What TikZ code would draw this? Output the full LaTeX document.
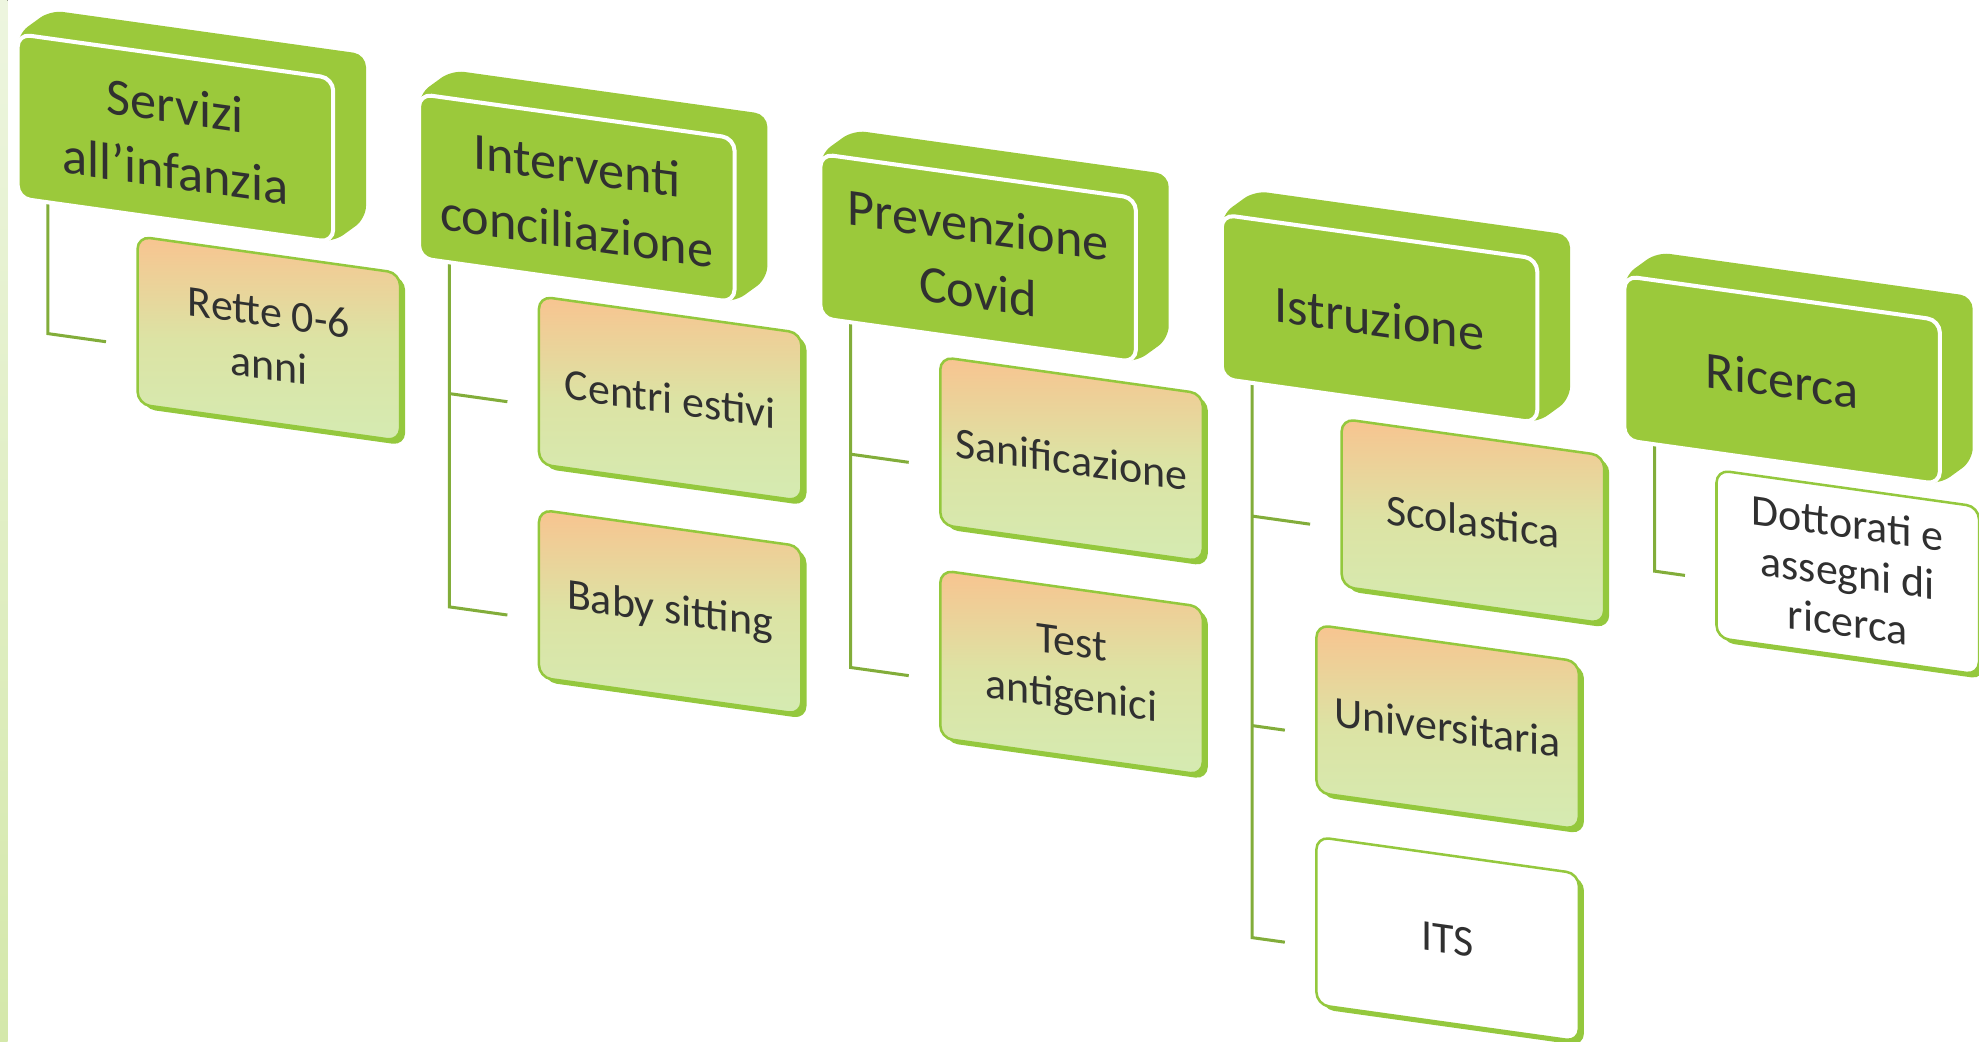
\documentclass[tikz,border=0pt]{standalone}
\usepackage{fontspec}
\setmainfont{Carlito}
\usetikzlibrary{calc,backgrounds}
\definecolor{hgreen}{HTML}{9BC93B}
\definecolor{cgreen}{HTML}{94C83D}
\definecolor{lineg}{HTML}{82AD3A}
\definecolor{peach}{HTML}{F8C490}
\definecolor{cmid}{HTML}{DCE3A4}
\definecolor{lgreen}{HTML}{D5EBB2}
\definecolor{txt}{HTML}{303030}
\definecolor{stripT}{HTML}{EDF5DF}
\definecolor{stripB}{HTML}{D4E8AA}
\tikzset{
  hshape/.style={rectangle, rounded corners=5pt, minimum width=125pt, minimum height=65pt, anchor=north west, inner sep=0pt, outer sep=0pt},
  hface/.style={hshape, fill=hgreen, draw=white, line width=1.6pt, align=center, text=txt, font=\fontsize{20.7}{26}\selectfont},
  hback/.style={hshape},
  cshape/.style={rectangle, rounded corners=5pt, minimum width=104pt, minimum height=66.5pt, anchor=north west, inner sep=0pt, outer sep=0pt},
  cdepth/.style={cshape, fill=cgreen},
  cface/.style={cshape, draw=cgreen, line width=1pt, top color=peach, bottom color=lgreen, middle color=cmid, align=center, text=txt, font=\fontsize{17.4}{21}\selectfont},
  cplain/.style={cshape, draw=cgreen, line width=1pt, fill=white, align=center, text=txt, font=\fontsize{17.4}{19.5}\selectfont},
  conn/.style={draw=lineg, line width=1.2pt},
  hull/.style={fill=hgreen, rounded corners=5pt},
}
\begin{document}
\begin{tikzpicture}[x=0.5pt,y=-0.5pt]
\useasboundingbox (0,0) rectangle (1568,825);
\fill[top color=stripT, bottom color=stripB] (0,0) rectangle (6,825);
\begin{scope}[yslant=-0.14, transform shape]
  % headers
  \node[hback] (hb1) at (40,2.5) {};
  \node[hface] (h1) at (14,25) {Servizi\\all’infanzia};
  \node[hback] (hb2) at (358,5.5) {};
  \node[hface] (h2) at (332,28) {Interventi\\conciliazione};
  \node[hback] (hb3) at (676,8.5) {};
  \node[hface] (h3) at (650,31) {Prevenzione\\Covid};
  \node[hback] (hb4) at (994,12) {};
  \node[hface] (h4) at (968,34.5) {Istruzione};
  \node[hback] (hb5) at (1313,16) {};
  \node[hface] (h5) at (1287,38.5) {Ricerca};
  % children
  \node[cdepth] (d1) at (113,175) {};
  \node[cface] (c1) at (109,172) {Rette 0-6\\anni};
  \node[cdepth] (d2a) at (431,178) {};
  \node[cface] (c2a) at (427,175) {Centri estivi};
  \node[cdepth] (d2b) at (431,347) {};
  \node[cface] (c2b) at (427,344) {Baby sitting};
  \node[cdepth] (d3a) at (749,181.5) {};
  \node[cface] (c3a) at (745,178.5) {Sanificazione};
  \node[cdepth] (d3b) at (749,350.5) {};
  \node[cface] (c3b) at (745,347.5) {Test\\antigenici};
  \node[cdepth] (d4a) at (1067,186) {};
  \node[cface] (c4a) at (1063,183) {Scolastica};
  \node[cdepth] (d4b) at (1047,352) {};
  \node[cface] (c4b) at (1043,349) {Universitaria};
  \node[cdepth] (d4c) at (1047,520) {};
  \node[cplain] (c4c) at (1043,517) {ITS};
  \node[cdepth] (d5) at (1364,185) {};
  \node[cplain] (c5) at (1360,182) {Dottorati e\\assegni di\\ricerca};
  % connector points
  \coordinate (e1) at ($(c1.north west)+(-25,87)$);
  \coordinate (k1) at ($(e1)+(-46,0)$);
  \coordinate (e2a) at ($(c2a.north west)+(-25,87)$);
  \coordinate (k2a) at ($(e2a)+(-46,0)$);
  \coordinate (e2b) at ($(c2b.north west)+(-25,87)$);
  \coordinate (k2b) at ($(e2b)+(-46,0)$);
  \coordinate (e3a) at ($(c3a.north west)+(-25,87)$);
  \coordinate (k3a) at ($(e3a)+(-46,0)$);
  \coordinate (e3b) at ($(c3b.north west)+(-25,87)$);
  \coordinate (k3b) at ($(e3b)+(-46,0)$);
  \coordinate (e4a) at ($(c4a.north west)+(-25,87)$);
  \coordinate (k4a) at ($(e4a)+(-46,0)$);
  \coordinate (e4b) at ($(c4b.north west)+(-25,87)$);
  \coordinate (k4b) at ($(e4b)+(-26,0)$);
  \coordinate (e4c) at ($(c4c.north west)+(-25,87)$);
  \coordinate (k4c) at ($(e4c)+(-26,0)$);
  \coordinate (e5) at ($(c5.north west)+(-25,87)$);
  \coordinate (k5) at ($(e5)+(-24,0)$);
  \begin{pgfonlayer}{background}
    \foreach \i in {1,...,5}{
      \fill[hull] (h\i.north west) -- (hb\i.north west) -- (hb\i.north east) -- (hb\i.south east) -- (h\i.south east) -- (h\i.south west) -- cycle;
    }
    \draw[conn] (h1.south west) ++(24,0) -- (k1) -- (e1);
    \draw[conn] (h2.south west) ++(24,0) -- (k2b) -- (e2b);
    \draw[conn] (k2a) -- (e2a);
    \draw[conn] (h3.south west) ++(24,0) -- (k3b) -- (e3b);
    \draw[conn] (k3a) -- (e3a);
    \draw[conn] (h4.south west) ++(24,0) -- (k4c) -- (e4c);
    \draw[conn] (k4a) -- (e4a);
    \draw[conn] (k4b) -- (e4b);
    \draw[conn] (h5.south west) ++(24,0) -- (k5) -- (e5);
  \end{pgfonlayer}
\end{scope}
\end{tikzpicture}
\end{document}
